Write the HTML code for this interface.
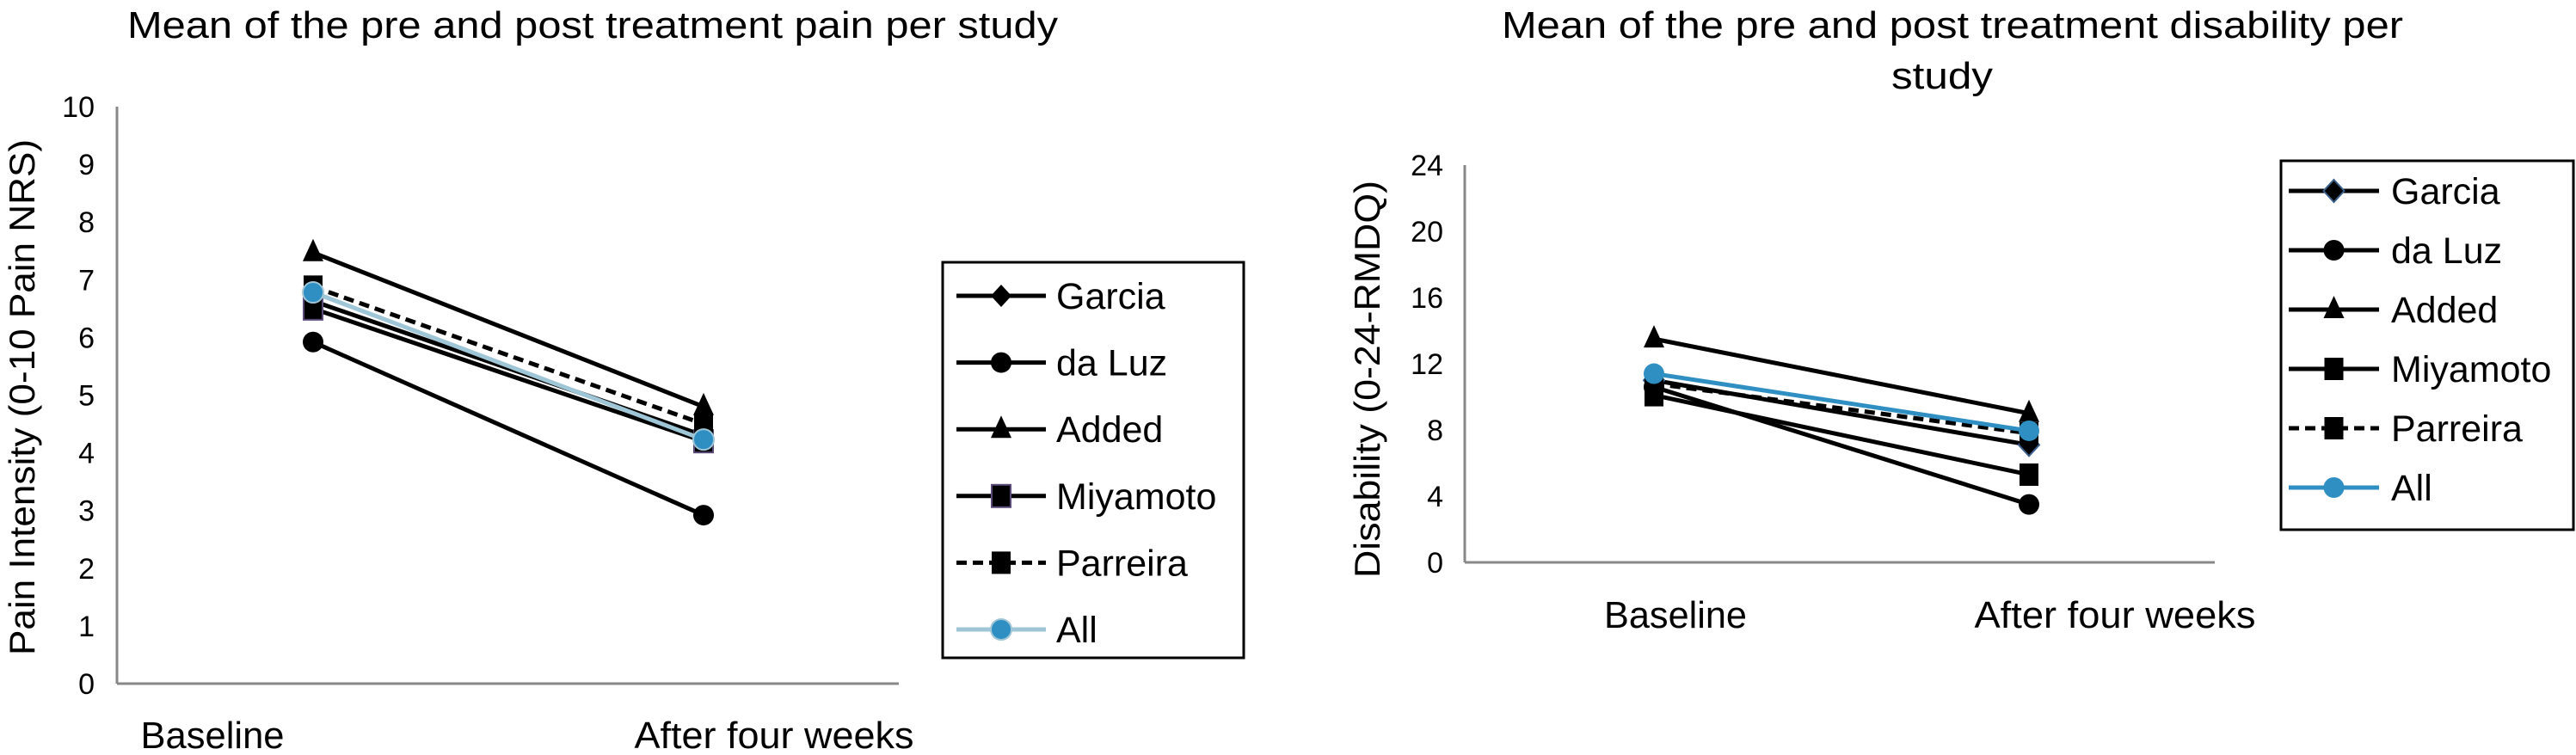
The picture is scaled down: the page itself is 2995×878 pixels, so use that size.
<!DOCTYPE html>
<html><head><meta charset="utf-8"><style>
html,body{margin:0;padding:0;background:#fff;}
svg{display:block;font-family:"Liberation Sans",Arial,sans-serif;}
</style></head><body>
<svg id="chart" width="2995" height="878" viewBox="0 0 2995 878" xmlns="http://www.w3.org/2000/svg">
<g id="left"></g>
<g id="right"></g>
</svg>
<script>
const categories = ["Baseline", "After four weeks"];
const seriesNames = ["Garcia", "da Luz", "Added", "Miyamoto", "Parreira", "All"];
const painGarcia = [6.63, 4.3];
const painDaLuz = [5.92, 2.92];
const painAdded = [7.47, 4.8];
const painMiyamoto = [6.5, 4.2];
const painParreira = [6.88, 4.5];
const painAll = [6.78, 4.23];
const painTicks = [0,1,2,3,4,5,6,7,8,9,10];
const disGarcia = [11.0, 7.1];
const disDaLuz = [10.6, 3.5];
const disAdded = [13.5, 9.0];
const disMiyamoto = [10.1, 5.3];
const disParreira = [10.8, 7.8];
const disAll = [11.4, 7.95];
const disTicks = [0,4,8,12,16,20,24];

const NS = "http://www.w3.org/2000/svg";
function mk(parent, tag, attrs, text) {
  const e = document.createElementNS(NS, tag);
  for (const k in attrs) e.setAttribute(k, attrs[k]);
  if (text !== undefined) e.textContent = text;
  parent.appendChild(e);
  return e;
}
function marker(g, type, x, y, fill, stroke) {
  let m;
  if (type === "diamond") m = mk(g, "polygon", {points: `${x},${y-13} ${x+12},${y} ${x},${y+13} ${x-12},${y}`, fill: "#000", stroke: stroke || "none", "stroke-width": 2});
  else if (type === "circle") m = mk(g, "circle", {cx: x, cy: y, r: 12, fill: fill || "#000", stroke: stroke || "none", "stroke-width": 2});
  else if (type === "triangle") m = mk(g, "polygon", {points: `${x},${y-16} ${x+12},${y+10} ${x-12},${y+10}`, fill: "#000"});
  else m = mk(g, "rect", {x: x-11, y: y-13, width: 22, height: 26, fill: "#000", stroke: stroke || "none", "stroke-width": 2});
  return m;
}

function draw(cfg) {
  const g = document.getElementById(cfg.id);
  const xS = i => cfg.catX[0] + i * (cfg.catX[1] - cfg.catX[0]);
  const yS = v => cfg.y0 - (v - cfg.ticks[0]) / (cfg.ticks[cfg.ticks.length-1] - cfg.ticks[0]) * (cfg.y0 - cfg.yTop);
  cfg.title.forEach(t => {
    const e = mk(g, "text", {x: t.x, y: t.y, "font-size": 44, "text-anchor": "middle", textLength: t.w, lengthAdjust: "spacingAndGlyphs"}, t.s);
    
    
  });
  const ya = mk(g, "line", {x1: cfg.axX, y1: cfg.yTop, x2: cfg.axX, y2: cfg.y0, stroke: "#888", "stroke-width": 3});
  
  
  const xa = mk(g, "line", {x1: cfg.axX, y1: cfg.y0, x2: cfg.axEnd, y2: cfg.y0, stroke: "#888", "stroke-width": 3});
  
  
  cfg.ticks.forEach(t => {
    const e = mk(g, "text", {x: cfg.tickRight, y: yS(t) + 12, "font-size": 34, "text-anchor": "end"}, String(t));
    
    
  });
  const yl = mk(g, "text", {x: 0, y: 0, "font-size": 42, "text-anchor": "middle", transform: `translate(${cfg.ylX},${cfg.ylY}) rotate(-90)`, textLength: cfg.ylLen, lengthAdjust: "spacingAndGlyphs"}, cfg.yLabel);
  
  
  categories.forEach((c, i) => {
    const e = mk(g, "text", {x: cfg.catLbl[i].x, y: cfg.catY, "font-size": 44, "text-anchor": "middle", textLength: cfg.catLbl[i].w, lengthAdjust: "spacingAndGlyphs"}, c);
    
    
  });
  cfg.series.forEach(s => {
    const sg = mk(g, "g", {});
    
    
    mk(sg, "line", {x1: xS(0), y1: yS(s.vals[0]), x2: xS(1), y2: yS(s.vals[1]), stroke: s.line, "stroke-width": s.lw || 5, "stroke-dasharray": s.dash || "none"});
    s.vals.forEach((v, i) => {
      const m = marker(sg, s.mk, xS(i), yS(v), s.fill, s.ms);
      
      
    });
  });
  const lg = mk(g, "g", {});
  
  
  mk(lg, "rect", {x: cfg.leg.x, y: cfg.leg.y, width: cfg.leg.w, height: cfg.leg.h, fill: "none", stroke: "#000", "stroke-width": 3});
  cfg.series.forEach((s, i) => {
    const ey = cfg.leg.ey0 + i * cfg.leg.dy;
    const eg = mk(lg, "g", {});
    
    
    mk(eg, "line", {x1: cfg.leg.lx1, y1: ey, x2: cfg.leg.lx2, y2: ey, stroke: s.line, "stroke-width": s.lw || 5, "stroke-dasharray": s.dash || "none"});
    marker(eg, s.mk, (cfg.leg.lx1 + cfg.leg.lx2) / 2, ey, s.fill, s.ms);
    mk(eg, "text", {x: cfg.leg.tx, y: ey + 15, "font-size": 43}, s.name);
  });
}

draw({
  id: "left",
  title: [{s: "Mean of the pre and post treatment pain per study", x: 689, y: 44, w: 1082}],
  ticks: painTicks, y0: 795, yTop: 124, axX: 136, axEnd: 1045, tickRight: 110,
  yLabel: "Pain Intensity (0-10 Pain NRS)", ylX: 40, ylY: 462, ylLen: 600,
  catX: [364, 818], catY: 870, catLbl: [{x: 247, w: 167}, {x: 900, w: 325}],
  series: [
    {name: seriesNames[0], vals: painGarcia, mk: "diamond", line: "#000"},
    {name: seriesNames[1], vals: painDaLuz, mk: "circle", line: "#000"},
    {name: seriesNames[2], vals: painAdded, mk: "triangle", line: "#000"},
    {name: seriesNames[3], vals: painMiyamoto, mk: "square", line: "#000", ms: "#5a4a78"},
    {name: seriesNames[4], vals: painParreira, mk: "square", line: "#000", dash: "12 7"},
    {name: seriesNames[5], vals: painAll, mk: "circle", line: "#9fc6d6", fill: "#2f8fc2", ms: "#9fc6d6"}
  ],
  leg: {x: 1096, y: 305, w: 350, h: 460, ey0: 344, dy: 77.6, lx1: 1112, lx2: 1216, tx: 1228}
});
draw({
  id: "right",
  title: [{s: "Mean of the pre and post treatment disability per", x: 2270, y: 44, w: 1048},
          {s: "study", x: 2258, y: 103, w: 118}],
  ticks: disTicks, y0: 654, yTop: 192, axX: 1703, axEnd: 2575, tickRight: 1678,
  yLabel: "Disability  (0-24-RMDQ)", ylX: 1604, ylY: 441, ylLen: 462,
  catX: [1923, 2359], catY: 730, catLbl: [{x: 1948, w: 166}, {x: 2459, w: 327}],
  series: [
    {name: seriesNames[0], vals: disGarcia, mk: "diamond", line: "#000", ms: "#3a5f8a"},
    {name: seriesNames[1], vals: disDaLuz, mk: "circle", line: "#000"},
    {name: seriesNames[2], vals: disAdded, mk: "triangle", line: "#000"},
    {name: seriesNames[3], vals: disMiyamoto, mk: "square", line: "#000"},
    {name: seriesNames[4], vals: disParreira, mk: "square", line: "#000", dash: "12 7"},
    {name: seriesNames[5], vals: disAll, mk: "circle", line: "#2f8fc2", fill: "#2f8fc2"}
  ],
  leg: {x: 2652, y: 187, w: 340, h: 429, ey0: 222, dy: 69, lx1: 2661, lx2: 2766, tx: 2780}
});
</script>
</body></html>
